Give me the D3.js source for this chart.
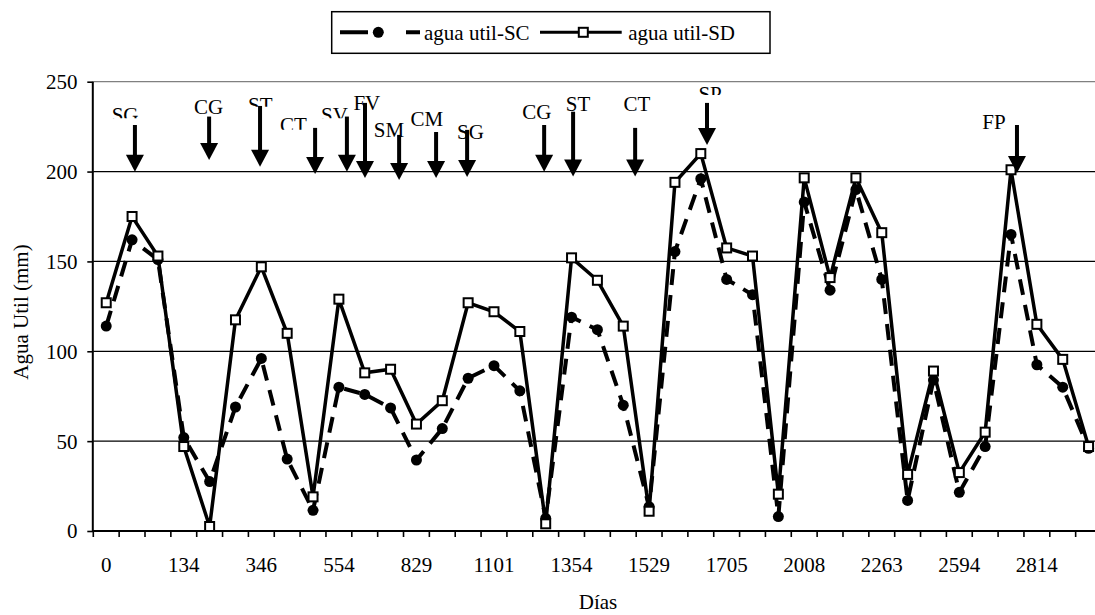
<!DOCTYPE html>
<html>
<head>
<meta charset="utf-8">
<script src="https://cdn.jsdelivr.net/npm/d3@7"></script>
<style>
  html, body { margin: 0; padding: 0; background: #fff; }
  svg { display: block; }
  text { font-family: "Liberation Serif", "Times New Roman", "DejaVu Serif", serif; fill: #000; }
</style>
</head>
<body>
<svg id="chart" width="1095" height="615"></svg>
<script>
// ---------------- data ----------------
const seriesNames = ["agua util-SC", "agua util-SD"];
// Agua útil (mm) per sampling date (39 sampling dates)
const aguaSC = [114,162,151,52,27.5,69,96,40,11.5,80,76,68.5,39.5,57,85,92,78,7,119,112,70,13.5,155.5,196,140,131.5,8,183,134,190,140,17,84,21.5,47,165,92.5,80,46];
const aguaSD = [127,175,153,47,2.5,117.5,147,110,19,129,88,90,59.5,72.5,127,122,111,4,152,139.5,114,11,194,210,157.5,153,20.5,196.5,141,196.5,166,31.5,89,32.5,55,201,115,95.5,47];
// day labels shown on every third sampling date
const dayLabels = ["0","134","346","554","829","1101","1354","1529","1705","2008","2263","2594","2814"];
const yTicks = [0,50,100,150,200,250];
// management events: label, arrow category position, arrow top & tip (mm), label category position, label baseline (mm), clip level (mm)
const events = [
  {t:"SG", ac:1.11,  top:225.9, tip:199.9, tc:0.73,  ty:227.8, clip:229.7},
  {t:"CG", ac:3.98,  top:230.6, tip:206.5, tc:3.96,  ty:231.9},
  {t:"ST", ac:5.95,  top:236.5, tip:202.7, tc:5.96,  ty:233.4, clip:236.1},
  {t:"CT", ac:8.08,  top:224.3, tip:198.7, tc:7.24,  ty:221.9, clip:223.2},
  {t:"SV", ac:9.31,  top:230.6, tip:199.9, tc:8.83,  ty:227.8, clip:229.7},
  {t:"FV", ac:10.01, top:238.2, tip:196.4, tc:10.08, ty:234.0},
  {t:"SM", ac:11.33, top:220.4, tip:195.3, tc:10.94, ty:219.3},
  {t:"CM", ac:12.76, top:222.0, tip:196.4, tc:12.40, ty:225.6},
  {t:"SG", ac:13.96, top:223.2, tip:197.0, tc:14.09, ty:218.2},
  {t:"CG", ac:16.94, top:225.9, tip:199.9, tc:16.66, ty:229.3},
  {t:"ST", ac:18.06, top:233.3, tip:197.2, tc:18.25, ty:233.6},
  {t:"CT", ac:20.46, top:224.3, tip:197.2, tc:20.53, ty:233.6},
  {t:"SP", ac:23.24, top:238.2, tip:214.8, tc:23.36, ty:239.5, clip:242.6},
  {t:"FP", ac:35.23, top:225.9, tip:199.2, tc:34.34, ty:223.8}
];

// ---------------- layout ----------------
const W = 1095, H = 615;
const plotL = 93.3, plotR = 1101.5, plotT = 81.7, plotB = 531;
const N = aguaSD.length;
const FONT = 21;
const SERIF = "Liberation Serif, Times New Roman, DejaVu Serif, serif";

const svg = d3.select("#chart");
svg.append("rect").attr("width", W).attr("height", H).attr("fill", "#fff");

const x = d3.scaleBand().domain(d3.range(N)).range([plotL, plotR]).paddingInner(0).paddingOuter(0);
const xc = i => x(i) + x.bandwidth() / 2;
const xf = d3.scaleLinear().domain([-0.5, N - 0.5]).range([plotL, plotR]);
const y = d3.scaleLinear().domain([0, 250]).range([plotB, plotT]);

// gridlines
svg.append("g").selectAll("line").data(yTicks.filter(v => v > 0)).join("line")
  .attr("x1", plotL).attr("x2", W)
  .attr("y1", d => y(d)).attr("y2", d => y(d))
  .attr("stroke", d => d === 250 ? "#808080" : "#000")
  .attr("stroke-width", 1.3);

// y axis
const yAxis = d3.axisLeft(y).tickValues(yTicks).tickSize(6).tickPadding(9).tickFormat(d3.format("d"));
const gy = svg.append("g").attr("transform", `translate(${plotL},0)`).call(yAxis)
  .attr("font-family", SERIF).attr("font-size", FONT);
gy.select(".domain").attr("stroke", "#000").attr("stroke-width", 2).attr("d", `M-0.5,${plotT}V${plotB}`);
gy.selectAll(".tick line").attr("stroke", "#000").attr("stroke-width", 1.6);
gy.selectAll(".tick text").attr("dy", "0.33em").attr("x", -15.8);

// x axis baseline
svg.append("line").attr("x1", plotL - 1).attr("x2", W).attr("y1", plotB).attr("y2", plotB)
  .attr("stroke", "#000").attr("stroke-width", 2);
// tick marks between categories
const boundaries = d3.range(N + 1).map(i => i === N ? plotR : x(i));
svg.append("g").selectAll("line").data(boundaries).join("line")
  .attr("x1", d => d).attr("x2", d => d).attr("y1", plotB).attr("y2", plotB + 6)
  .attr("stroke", "#000").attr("stroke-width", 1.6);
// tick labels (every third date)
const labelIdx = dayLabels.map((d, k) => k * 3);
const xAxis = d3.axisBottom(x).tickValues(labelIdx).tickSize(0).tickPadding(0)
  .tickFormat(i => dayLabels[i / 3]);
const gx = svg.append("g").attr("transform", `translate(0,${plotB})`).call(xAxis)
  .attr("font-family", SERIF).attr("font-size", FONT);
gx.select(".domain").remove();
gx.selectAll(".tick text").attr("dy", null).attr("y", 41);

// axis titles
svg.append("text").attr("x", 598).attr("y", 609).attr("text-anchor", "middle").attr("font-size", FONT).text("Días");
svg.append("text").attr("transform", "translate(28,312) rotate(-90)").attr("text-anchor", "middle")
  .attr("font-size", FONT).text("Agua Util (mm)");

// ---------------- series ----------------
const line = d3.line().x((d, i) => xc(i)).y(d => y(d));

svg.append("path").datum(aguaSC).attr("d", line).attr("fill", "none")
  .attr("stroke", "#000").attr("stroke-width", 4).attr("stroke-dasharray", "16,10");
svg.append("g").selectAll("circle").data(aguaSC).join("circle")
  .attr("cx", (d, i) => xc(i)).attr("cy", d => y(d)).attr("r", 5.5).attr("fill", "#000");

svg.append("path").datum(aguaSD).attr("d", line).attr("fill", "none")
  .attr("stroke", "#000").attr("stroke-width", 3.5).attr("stroke-linejoin", "miter");
svg.append("g").selectAll("rect").data(aguaSD).join("rect")
  .attr("x", (d, i) => xc(i) - 4.5).attr("y", d => y(d) - 4.5).attr("width", 9).attr("height", 9)
  .attr("fill", "#fff").attr("stroke", "#000").attr("stroke-width", 2);

// ---------------- events (arrows + labels) ----------------
const defs = svg.append("defs");
const ev = svg.append("g");
events.forEach((e, k) => {
  const ax = xf(e.ac), y0 = y(e.top), y1 = y(e.tip);
  const hh = 17, hw = 9;
  ev.append("line").attr("x1", ax).attr("x2", ax).attr("y1", y0).attr("y2", y1 - hh + 1)
    .attr("stroke", "#000").attr("stroke-width", 4);
  ev.append("path").attr("d", `M${ax - hw},${y1 - hh}L${ax + hw},${y1 - hh}L${ax},${y1}Z`).attr("fill", "#000");
  const t = ev.append("text").attr("x", xf(e.tc)).attr("y", y(e.ty)).attr("text-anchor", "middle")
    .attr("font-size", FONT).text(e.t);
  if (e.clip !== undefined) {
    const id = "clip" + k;
    defs.append("clipPath").attr("id", id).append("rect")
      .attr("x", 0).attr("y", 0).attr("width", W).attr("height", y(e.clip));
    t.attr("clip-path", `url(#${id})`);
  }
});

// ---------------- legend ----------------
const lg = svg.append("g");
lg.append("rect").attr("x", 331.7).attr("y", 11.7).attr("width", 438.3).attr("height", 41.6)
  .attr("fill", "#fff").attr("stroke", "#000").attr("stroke-width", 1.5);
const ly = 32.3;
lg.append("line").attr("x1", 340).attr("x2", 420).attr("y1", ly).attr("y2", ly)
  .attr("stroke", "#000").attr("stroke-width", 4).attr("stroke-dasharray", "28,38");
lg.append("circle").attr("cx", 378.3).attr("cy", ly).attr("r", 5.5).attr("fill", "#000");
lg.append("text").attr("x", 424).attr("y", 39.5).attr("font-size", FONT).text(seriesNames[0]);
lg.append("line").attr("x1", 540).attr("x2", 621.7).attr("y1", ly).attr("y2", ly)
  .attr("stroke", "#000").attr("stroke-width", 3);
lg.append("rect").attr("x", 583.3 - 4.5).attr("y", ly - 4.5).attr("width", 9).attr("height", 9)
  .attr("fill", "#fff").attr("stroke", "#000").attr("stroke-width", 2);
lg.append("text").attr("x", 628.3).attr("y", 39.5).attr("font-size", FONT).text(seriesNames[1]);
</script>
</body>
</html>
